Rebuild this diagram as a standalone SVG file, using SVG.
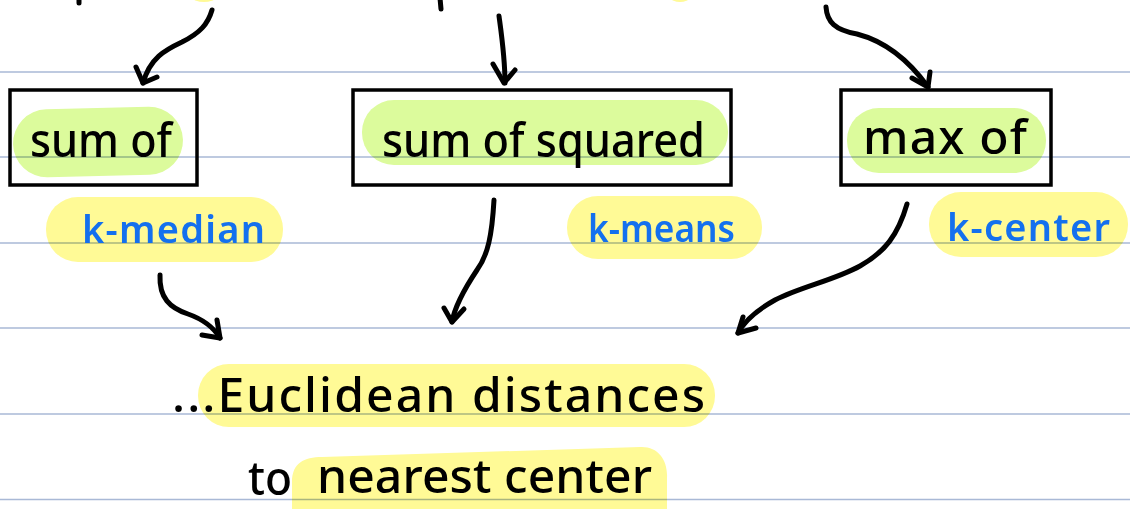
<svg xmlns="http://www.w3.org/2000/svg" width="1130" height="509" viewBox="0 0 1130 509">
  <style>
    .rule { stroke: #a9b9d6; stroke-width: 1.6; }
    .box { fill: none; stroke: #000; stroke-width: 3.5; }
    .hl-green { fill: #dcfb9c; mix-blend-mode: multiply; }
    .hl-yellow { fill: #fffa96; mix-blend-mode: multiply; }
    .ink { font-family: "Noto Sans", "DejaVu Sans", sans-serif; font-weight: 500; fill: #000; }
    .blue { font-family: "Noto Sans", "DejaVu Sans", sans-serif; font-weight: 600; fill: #1470ee; }
    .pen { fill: none; stroke: #000; stroke-width: 5; stroke-linecap: round; stroke-linejoin: round; }
  </style>

  <rect width="1130" height="509" fill="#fff"/>

  <!-- ruled paper -->
  <g id="ruling">
    <line class="rule" x1="0" y1="72" x2="1130" y2="72"/>
    <line class="rule" x1="0" y1="157" x2="1130" y2="157"/>
    <line class="rule" x1="0" y1="243" x2="1130" y2="243"/>
    <line class="rule" x1="0" y1="328" x2="1130" y2="328"/>
    <line class="rule" x1="0" y1="414" x2="1130" y2="414"/>
    <line class="rule" x1="0" y1="499.5" x2="1130" y2="499.5"/>
  </g>

  <!-- strokes cut off at the top edge -->
  <g id="top-edge-marks">
    <ellipse class="hl-yellow" cx="204" cy="-2" rx="11" ry="4"/>
    <ellipse class="hl-yellow" cx="680" cy="-2" rx="9" ry="4"/>
    <path class="pen" d="M79,-2 L79,3"/>
    <path class="pen" d="M440,-2 L441,9"/>
  </g>

  <g id="node-sum-of">
    <rect class="hl-green" x="13" y="108" width="170" height="68" rx="34" transform="rotate(-1.5 98 142)"/>
    <rect class="box" x="10" y="90" width="187" height="95"/>
    <text class="ink" x="30" y="157" font-size="48" textLength="142" lengthAdjust="spacingAndGlyphs">sum of</text>
  </g>

  <g id="node-sum-of-squared">
    <rect class="hl-green" x="362" y="100" width="366" height="65" rx="32"/>
    <rect class="box" x="353" y="90" width="378" height="95"/>
    <text class="ink" x="382" y="157" font-size="48" textLength="323" lengthAdjust="spacingAndGlyphs">sum of squared</text>
  </g>

  <g id="node-max-of">
    <rect class="hl-green" x="847" y="108" width="199" height="65" rx="32"/>
    <rect class="box" x="841" y="90" width="210" height="95"/>
    <text class="ink" x="863" y="154" font-size="48" textLength="164" lengthAdjust="spacing">max of</text>
  </g>

  <g id="label-k-median">
    <rect class="hl-yellow" x="46" y="197" width="237" height="65" rx="32"/>
    <text class="blue" x="82" y="243" font-size="38" textLength="183" lengthAdjust="spacing">k-median</text>
  </g>

  <g id="label-k-means">
    <rect class="hl-yellow" x="567" y="196" width="195" height="63" rx="31"/>
    <text class="blue" x="588" y="242" font-size="38" textLength="147" lengthAdjust="spacingAndGlyphs">k-means</text>
  </g>

  <g id="label-k-center">
    <rect class="hl-yellow" x="929" y="192" width="199" height="65" rx="32"/>
    <text class="blue" x="947" y="241" font-size="38" textLength="163" lengthAdjust="spacing">k-center</text>
  </g>

  <g id="node-euclidean">
    <rect class="hl-yellow" x="198" y="364" width="517" height="63" rx="31"/>
    <path class="hl-yellow" d="M292,482 C292,463 304,457 322,457 L640,447 C658,446 668,460 667,478 L667,515 L292,515 Z"/>
    <text class="ink" x="172" y="412" font-size="48" textLength="533" lengthAdjust="spacing">...Euclidean distances</text>
    <text class="ink" x="248" y="495" font-size="48" textLength="44" lengthAdjust="spacingAndGlyphs">to</text>
    <text class="ink" x="317" y="493" font-size="48" textLength="335" lengthAdjust="spacing">nearest center</text>
  </g>

  <g id="connectors">
    <!-- into "sum of" -->
    <path class="pen" d="M212,10 C208,24 200,33 182,42 C165,50 150,58 143,83"/>
    <path class="pen" d="M136,67 L143,83 L157,77"/>
    <!-- into "sum of squared" -->
    <path class="pen" d="M499,16 C502,38 505,58 505,83"/>
    <path class="pen" d="M493,64 L504,83 L515,70"/>
    <!-- into "max of" -->
    <path class="pen" d="M826,7 C827,22 835,30 857,34 C880,40 905,55 928,87"/>
    <path class="pen" d="M912,78 L928,87 L930,72"/>
    <!-- k-median down to the distances -->
    <path class="pen" d="M160,275 C159,298 170,308 188,314 C205,320 214,328 220,338"/>
    <path class="pen" d="M217,320 L220,338 L202,335"/>
    <!-- k-means down to the distances -->
    <path class="pen" d="M494,200 C492,235 488,255 477,270 C465,288 455,305 452,322"/>
    <path class="pen" d="M444,308 L452,322 L464,309"/>
    <!-- k-center down to the distances -->
    <path class="pen" d="M907,204 C898,235 885,252 860,266 C835,280 800,287 775,300 C757,310 745,320 738,333"/>
    <path class="pen" d="M743,317 L738,333 L756,328"/>
  </g>
</svg>
